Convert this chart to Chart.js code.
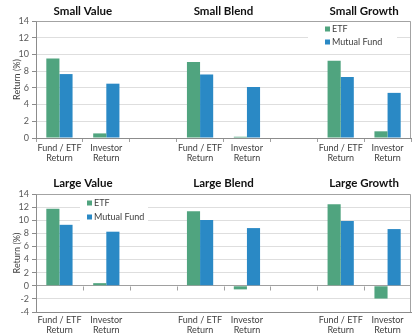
<!DOCTYPE html>
<html>
<head>
<meta charset="utf-8">
<script src="https://cdn.jsdelivr.net/npm/chart.js@4/dist/chart.umd.min.js"></script>
<style>
  body { margin: 0; background: #fff; }
  canvas { display: block; }
</style>
</head>
<body>
<canvas id="smallChart" width="420" height="165"></canvas>
<canvas id="largeChart" width="420" height="170"></canvas>
<script>
// ------------------------------
// DATA
// ------------------------------

const categories = [
    ["Fund / ETF", "Return"], ["Investor", "Return"], "",
    ["Fund / ETF", "Return"], ["Investor", "Return"], "",
    ["Fund / ETF", "Return"], ["Investor", "Return"]
];
const seriesNames = ["ETF", "Mutual Fund"];

const smallTitles = ["Small Value", "Small Blend", "Small Growth"];
const smallEtf = [9.5, 0.55, null, 9.1, 0.15, null, 9.25, 0.8];
const smallFund = [7.65, 6.5, null, 7.6, 6.1, null, 7.3, 5.4];

const largeTitles = ["Large Value", "Large Blend", "Large Growth"];
const largeEtf = [11.75, 0.4, null, 11.35, -0.55, null, 12.45, -1.95];
const largeFund = [9.3, 8.25, null, 10.05, 8.8, null, 9.9, 8.65];

const smallTicks = [0, 14];
const largeTicks = [-4, 14];

const GREEN = "#50a47f";
const BLUE = "#2a89c5";
const FONT = "Lato, 'Open Sans', sans-serif";

// ------------------------------
// PLUGINS
// ------------------------------

// group titles centred over each pair of bars
const groupTitles = {
    id: "groupTitles",
    afterDraw(chart, args, opts) {
        const ctx = chart.ctx;
        const x = chart.scales.x;
        ctx.save();
        ctx.font = "bold 11.5px " + FONT;
        ctx.fillStyle = "#111";
        ctx.textAlign = "center";
        ctx.textBaseline = "middle";
        opts.titles.forEach((t, i) => {
            const cx = (x.getPixelForValue(i * 3) + x.getPixelForValue(i * 3 + 1)) / 2;
            ctx.fillText(t, cx, opts.y);
        });
        ctx.restore();
    }
};

// frame round the plot area, plus little ticks on the zero line
const frame = {
    id: "frame",
    afterDatasetsDraw(chart, args, opts) {
        const ctx = chart.ctx;
        const a = chart.chartArea;
        ctx.save();
        ctx.strokeStyle = "#a3a3a3";
        ctx.lineWidth = 1;
        ctx.beginPath();
        ctx.moveTo(Math.round(a.left) + 0.5, Math.round(a.top) + 0.5);
        ctx.lineTo(Math.round(a.right) - 0.5, Math.round(a.top) + 0.5);
        ctx.lineTo(Math.round(a.right) - 0.5, Math.round(a.bottom));
        ctx.stroke();
        if (opts.zeroTicks) {
            const x = chart.scales.x;
            const y0 = Math.round(chart.scales.y.getPixelForValue(0)) + 0.5;
            ctx.strokeStyle = "#a0a0a0";
            ctx.beginPath();
            for (let i = 1; i < categories.length; i++) {
                const bx = Math.round((x.getPixelForValue(i - 1) + x.getPixelForValue(i)) / 2) + 0.5;
                ctx.moveTo(bx, y0);
                ctx.lineTo(bx, y0 + 4);
            }
            ctx.stroke();
        }
        ctx.restore();
    }
};

// small legend sitting inside the plot area
const innerLegend = {
    id: "innerLegend",
    beforeDatasetsDraw(chart, args, opts) {
        const ctx = chart.ctx;
        ctx.save();
        ctx.fillStyle = "#fff";
        ctx.fillRect(opts.box[0], opts.box[1], opts.box[2], opts.box[3]);
        ctx.font = "9px " + FONT;
        ctx.textBaseline = "middle";
        chart.data.datasets.forEach((ds, i) => {
            const y = opts.y + i * opts.gap;
            ctx.fillStyle = ds.backgroundColor;
            ctx.fillRect(opts.x, y - 2.5, 5, 5);
            ctx.fillStyle = "#404040";
            ctx.fillText(ds.label, opts.x + 7, y);
        });
        ctx.restore();
    }
};

// ------------------------------
// CHART BUILDER
// ------------------------------

function makeChart(id, etf, fund, range, titles, cfg) {
    const ctx = document.getElementById(id).getContext("2d");
    return new Chart(ctx, {
        type: "bar",
        data: {
            labels: categories,
            datasets: [
                { label: seriesNames[0], data: etf, backgroundColor: GREEN },
                { label: seriesNames[1], data: fund, backgroundColor: BLUE }
            ]
        },
        options: {
            responsive: false,
            animation: false,
            devicePixelRatio: 1,
            categoryPercentage: 0.56,
            barPercentage: 1.0,
            layout: { padding: { top: cfg.top, right: 9, left: 0, bottom: 0 } },
            scales: {
                x: {
                    grid: {
                        offset: true,
                        drawOnChartArea: false,
                        drawTicks: cfg.xTicks,
                        tickLength: cfg.xTicks ? 4 : 0,
                        color: "#a0a0a0"
                    },
                    border: { color: "#8c8c8c" },
                    ticks: {
                        color: "#404040",
                        font: { family: FONT, size: 9, lineHeight: 1.1 },
                        padding: cfg.xPad,
                        maxRotation: 0,
                        autoSkip: false
                    },
                    afterFit(scale) { scale.height = cfg.xHeight; }
                },
                y: {
                    min: range[0],
                    max: range[1],
                    ticks: {
                        stepSize: 2,
                        autoSkip: false,
                        color: "#595959",
                        font: { family: FONT, size: 9 },
                        padding: 3
                    },
                    grid: {
                        color: (c) => c.tick && c.tick.value === 0 && range[0] < 0 ? "#a0a0a0" : "#dedede",
                        tickColor: "#8c8c8c",
                        tickLength: 4
                    },
                    border: { color: "#8c8c8c" },
                    title: {
                        display: true,
                        text: "Return (%)",
                        color: "#404040",
                        font: { family: FONT, size: 9 },
                        padding: { top: 12, bottom: 0 }
                    },
                    afterFit(scale) { scale.width = 36; }
                }
            },
            plugins: {
                legend: { display: false },
                tooltip: { enabled: false },
                groupTitles: { titles: titles, y: cfg.titleY },
                frame: { zeroTicks: range[0] < 0 },
                innerLegend: cfg.legend
            }
        },
        plugins: [groupTitles, frame, innerLegend]
    });
}

makeChart("smallChart", smallEtf, smallFund, smallTicks, smallTitles, {
    top: 21, xHeight: 27, xTicks: true, xPad: 1, titleY: 11,
    legend: { x: 325, y: 29, gap: 13, box: [308, 22, 89, 27] }
});

makeChart("largeChart", largeEtf, largeFund, largeTicks, largeTitles, {
    top: 29, xHeight: 23, xTicks: false, xPad: 3, titleY: 18,
    legend: { x: 87, y: 38, gap: 14, box: [80, 31, 68, 28] }
});
</script>
</body>
</html>
